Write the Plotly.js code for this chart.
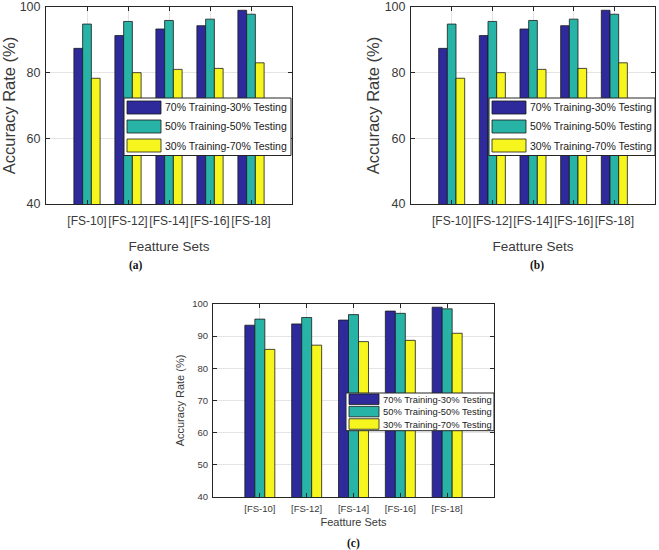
<!DOCTYPE html>
<html><head><meta charset="utf-8">
<script src="https://cdn.plot.ly/plotly-3.0.1.min.js"></script>
<style>html,body{margin:0;padding:0;background:#fff}#chart{width:659px;height:550px}</style>
</head><body><div id="chart"></div>
<script>
const categories = ['[FS-10]', '[FS-12]', '[FS-14]', '[FS-16]', '[FS-18]'];
const seriesNames = ['70% Training-30% Testing', '50% Training-50% Testing', '30% Training-70% Testing'];
const seriesColors = ['#2e2a9c', '#27b3a6', '#f6f61e'];

const panelA_70 = [87.4, 91.3, 93.3, 94.3, 99.0];
const panelA_50 = [94.8, 95.6, 95.9, 96.3, 97.8];
const panelA_30 = [78.3, 80.0, 81.0, 81.3, 83.0];

const panelB_70 = [87.4, 91.3, 93.3, 94.3, 99.0];
const panelB_50 = [94.8, 95.6, 95.9, 96.3, 97.8];
const panelB_30 = [78.3, 80.0, 81.0, 81.3, 83.0];

const panelC_70 = [93.4, 93.8, 95.0, 97.8, 99.0];
const panelC_50 = [95.3, 95.8, 96.7, 97.1, 98.5];
const panelC_30 = [85.9, 87.2, 88.3, 88.7, 90.9];

const yTicksAB = [40, 60, 80, 100];
const yTicksC = [40, 50, 60, 70, 80, 90, 100];
const panelLabels = ['(a)', '(b)', '(c)'];
const xTitle = 'Featture Sets';
const yTitle = 'Accuracy Rate (%)';

const RF = '"Liberation Sans", Arial, sans-serif';
const TXT = '#3a3a3a';
const W = 659, H = 550;

// layout styles per panel (pixel geometry)
const panels = [
  {data: [panelA_70, panelA_50, panelA_30], ticks: yTicksAB, box: [46, 292, 7, 204],
   leg: {x0: 124, x1: 291, y0: 98, pitch: 19, swW: 34, swH: 13, font: 10.5},
   big: true, lab: [136, 265]},
  {data: [panelB_70, panelB_50, panelB_30], ticks: yTicksAB, box: [411, 655, 7, 204],
   leg: {x0: 489, x1: 655, y0: 98, pitch: 19, swW: 34, swH: 13, font: 10.5},
   big: true, lab: [537, 265]},
  {data: [panelC_70, panelC_50, panelC_30], ticks: yTicksC, box: [213, 494, 304, 497],
   leg: {x0: 346, x1: 494, y0: 393, pitch: 12.4, swW: 30, swH: 10.5, font: 9.4},
   big: false, lab: [353, 543]}
];

const traces = [];
const layout = {
  width: W, height: H,
  margin: {l: 0, r: 0, t: 0, b: 0},
  paper_bgcolor: '#fff', plot_bgcolor: '#fff',
  barmode: 'group', bargap: 0.36, bargroupgap: 0,
  showlegend: false,
  annotations: [], shapes: []
};

const px = v => v / W;
const py = v => 1 - v / H;

panels.forEach((p, i) => {
  const sfx = i === 0 ? '' : String(i + 1);
  p.data.forEach((vals, s) => {
    traces.push({
      type: 'bar', x: categories, y: vals, name: seriesNames[s],
      marker: {color: seriesColors[s], line: {color: '#1a1a1a', width: 0.8}},
      xaxis: 'x' + sfx, yaxis: 'y' + sfx, showlegend: false
    });
  });
  const axCommon = {
    showline: true, linecolor: '#262626', linewidth: 1, mirror: 'ticks',
    ticks: 'inside', ticklen: 4, tickcolor: '#262626',
    showgrid: true, gridcolor: '#e4e4e4', gridwidth: 1,
    zeroline: false, fixedrange: true
  };
  layout['xaxis' + sfx] = Object.assign({}, axCommon, {
    domain: [px(p.box[0]), px(p.box[1])], anchor: 'y' + sfx,
    type: 'category', range: [-1, 5], tickangle: 0,
    tickfont: {family: RF, size: p.big ? 12 : 9.5, color: TXT},
    ticklabelstandoff: p.big ? 6 : 3,
    title: {text: xTitle, font: {family: RF, size: p.big ? 13.5 : 11, color: TXT}, standoff: p.big ? 14 : 4}
  });
  layout['yaxis' + sfx] = Object.assign({}, axCommon, {
    domain: [py(p.box[3]), py(p.box[2])], anchor: 'x' + sfx,
    range: [40, 100], tickvals: p.ticks,
    tickfont: {family: RF, size: p.big ? 12.5 : 9.5, color: TXT},
    ticklabelstandoff: 2,
    title: {text: yTitle, font: {family: RF, size: p.big ? 16.5 : 11, color: TXT}, standoff: p.big ? 0 : 5}
  });

  // legend box (drawn over the bars, as in the reference)
  const L = p.leg;
  const boxH = L.pitch * seriesNames.length + 0.5;
  layout.shapes.push({
    type: 'rect', xref: 'paper', yref: 'paper', layer: 'above',
    x0: px(L.x0), x1: px(L.x1), y0: py(L.y0 + boxH), y1: py(L.y0),
    fillcolor: '#ffffff', line: {color: '#262626', width: 1}
  });
  seriesNames.forEach((nm, s) => {
    const cy = L.y0 + L.pitch * (s + 0.5);
    const sx0 = L.x0 + 3;
    layout.shapes.push({
      type: 'rect', xref: 'paper', yref: 'paper', layer: 'above',
      x0: px(sx0), x1: px(sx0 + L.swW), y0: py(cy + L.swH / 2), y1: py(cy - L.swH / 2),
      fillcolor: seriesColors[s], line: {color: '#1a1a1a', width: 0.8}
    });
    layout.annotations.push({
      text: nm, xref: 'paper', yref: 'paper',
      x: px(sx0 + L.swW + 2), y: py(cy), xanchor: 'left', yanchor: 'middle',
      showarrow: false, font: {family: RF, size: L.font, color: '#1a1a1a'}
    });
  });

  layout.annotations.push({
    text: '<b>' + panelLabels[i] + '</b>', xref: 'paper', yref: 'paper',
    x: px(p.lab[0]), y: py(p.lab[1]), xanchor: 'center', yanchor: 'middle',
    showarrow: false, font: {family: '"Liberation Serif", "Times New Roman", serif', size: 11.5, color: '#111'}
  });
});

Plotly.newPlot('chart', traces, layout, {displayModeBar: false, staticPlot: true});
</script>
</body></html>
